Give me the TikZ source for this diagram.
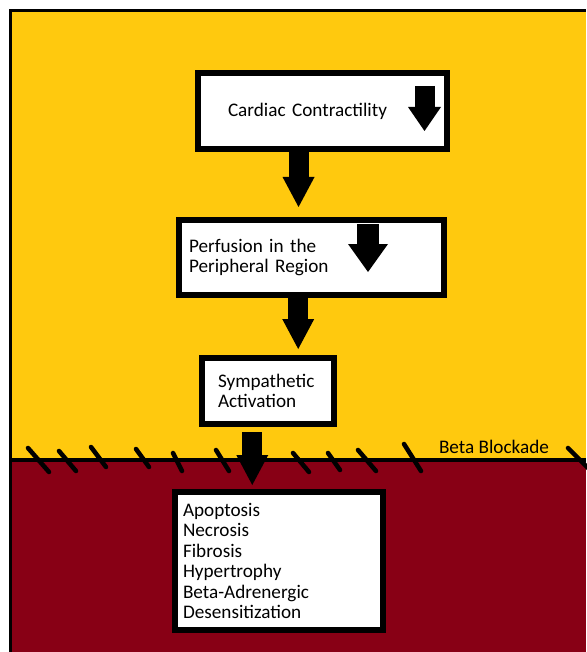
\documentclass[tikz,border=0pt]{standalone}
\usepackage{fontspec}
\setmainfont{Carlito}
\usetikzlibrary{
		arrows.meta,
		calc
	}
\definecolor{paintyellow}{HTML}{FFC90E}
\definecolor{paintred}{HTML}{880015}
\tikzset{
		stagebox/.style={draw=black, fill=white, line width=4.5pt, align=left,
			inner ysep=0pt, font=\fontsize{14.4pt}{15.4pt}\selectfont},
		flowarrow/.style={line width=15pt,
			-{Triangle[width=24pt,length=22.5pt,line width=0pt]}},
		dropmark/.style n args={3}{line width=#1,
			-{Triangle[width=#2,length=#3,line width=0pt]}},
		hatch/.style={line width=3.4pt, line cap=round}
	}

\begin{document}
\begin{tikzpicture}[x=0.75pt,y=-0.75pt]
          \useasboundingbox (0,0) rectangle (586,652);

          \fill[paintyellow] (12,12) rectangle (586,460);
          \fill[paintred] (12,460) rectangle (586,652);
          \draw[line width=2.25pt] (10.5,652) -- (10.5,10.5) -- (586,10.5);

          \foreach \xa/\ya/\xb/\yb in {28/448/49/472, 59/451/76/471,
                    91/447/106/467, 136/449/149/467, 173/453/182/471,
                    216/450/229/471, 293/453/309/472, 328/453/340/470,
                    358/450/376/471, 404/444/421/471, 568/448/590/470}
            \draw[hatch] (\xa,\ya) -- (\xb,\yb);
          \draw[line width=3pt] (10.5,460) -- (586,460);

          \node[font=\fontsize{14.4pt}{15.4pt}\selectfont, inner sep=0pt] (blockade)
               at (494,447) {Beta Blockade};

          \node[stagebox, text width=141.75pt, inner xsep=22.5pt,
               minimum height=57pt] (contract) at (322.5,111)
               {Cardiac Contractility};
          \node[stagebox, text width=183.75pt, inner xsep=7.5pt,
               minimum height=56.25pt] (perfusion) at (311.5,257.5)
               {Perfusion in the\\Peripheral Region};
          \node[stagebox, text width=75pt, inner xsep=12pt,
               minimum height=49.5pt] (sympa) at (268,391)
               {Sympathetic\\Activation};
          \node[stagebox, text width=144pt, inner xsep=6pt,
               minimum height=103.5pt] (damage) at (279,561)
               {Apoptosis\\Necrosis\\Fibrosis\\Hypertrophy\\Beta-Adrenergic\\Desensitization};

          \draw[dropmark={15pt}{24.75pt}{18pt}]
               ($(contract.north east)+(-25.5,16)$) -- ++(0,45);
          \draw[dropmark={16.5pt}{30pt}{21pt}]
               ($(perfusion.north east)+(-79,7)$) -- ++(0,48);

          \coordinate (A) at ($(contract.south west)!0.406!(contract.south east)$);
          \coordinate (B) at ($(perfusion.south west)!0.451!(perfusion.south east)$);
          \coordinate (C) at ($(sympa.south west)!0.386!(sympa.south east)$);

          \draw[flowarrow, shorten >=7.5pt] (A) -- (A |- perfusion.north);
          \draw[flowarrow, shorten >=4.5pt] (B) -- (B |- sympa.north);
          \draw[flowarrow, shorten <=3.75pt, shorten >=3pt] (C) -- (C |- damage.north);

\end{tikzpicture}
\end{document}
